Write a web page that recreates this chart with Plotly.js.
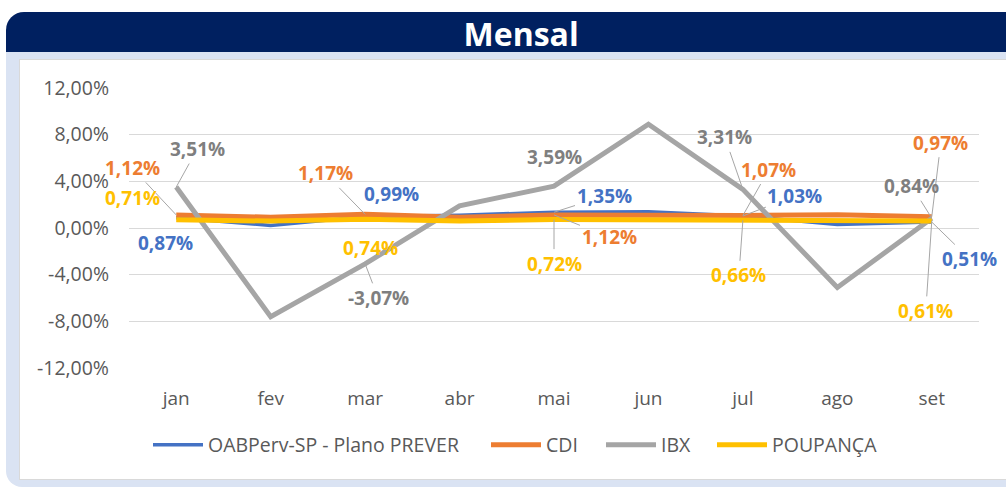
<!DOCTYPE html>
<html>
<head>
<meta charset="utf-8">
<script src="https://cdn.plot.ly/plotly-3.0.1.min.js"></script>
<style>
  html, body { margin:0; padding:0; width:1006px; height:487px; overflow:hidden; background:#ffffff; }
  #frame { position:absolute; left:6px; top:40px; width:1000px; height:447px; background:#DAE3F3; border-bottom-left-radius:16px; }
  #header { position:absolute; left:6px; top:12px; width:1000px; height:40px; background:#002060; border-top-left-radius:18px; }
  #panel { position:absolute; left:19px; top:59px; width:987px; height:421px; background:#ffffff; border:1px solid #D9D9D9; border-right:none; box-sizing:border-box; }
  #chart { position:absolute; left:0; top:0; width:1006px; height:487px; }
</style>
</head>
<body>
<div id="frame"></div>
<div id="header"></div>
<div id="panel"></div>
<div id="chart"></div>
<script>
// ---- data ----
const months = ['jan','fev','mar','abr','mai','jun','jul','ago','set'];
const seriesNames = ['OABPerv-SP - Plano PREVER','CDI','IBX','POUPANÇA'];
const oabValues  = [0.87, 0.22, 0.99, 1.10, 1.35, 1.40, 1.03, 0.30, 0.51];
const cdiValues  = [1.12, 0.92, 1.17, 0.92, 1.12, 1.07, 1.07, 1.14, 0.97];
const ibxValues  = [3.51, -7.60, -3.07, 1.90, 3.59, 8.90, 3.31, -5.10, 0.84];
const poupValues = [0.71, 0.59, 0.74, 0.60, 0.72, 0.68, 0.66, 0.69, 0.61];
const yTickVals  = [-12, -8, -4, 0, 4, 8, 12];
const yTickText  = ['-12,00%', '-8,00%', '-4,00%', '0,00%', '4,00%', '8,00%', '12,00%'];
const labeledIdx = [0, 2, 4, 6, 8];

// ---- styles ----
const colors = ['#4472C4', '#ED7D31', '#A5A5A5', '#FFC000'];
const labelColors = ['#4472C4', '#ED7D31', '#7F7F7F', '#FFC000'];
const widths = [3.5, 5, 5, 5];
const allValues = [oabValues, cdiValues, ibxValues, poupValues];
const legendIds = ['legend', 'legend2', 'legend3', 'legend4'];
const legendLeftPx = [152, 490, 605, 716];   // where each legend entry begins

// label placement (pixel offsets of label centre from its point; third = draw leader line)
const labelPos = [
  // OAB
  {0:[-11,25,0], 2:[26,-22,0], 4:[50,-16,1], 6:[52,-20,1], 8:[38,37,1]},
  // CDI
  {0:[-44,-47,1], 2:[-40,-41,1], 4:[55,22,1], 6:[26,-46,1], 8:[9,-74,1]},
  // IBX
  {0:[21,-38,1], 2:[13,34,1], 4:[0,-29,0], 6:[-18,-52,1], 8:[-20,-32,1]},
  // POUP
  {0:[-44,-22,0], 2:[5,29,0], 4:[0,44,1], 6:[-4,55,1], 8:[-6,90,1]}
];

function fmt(v) { return v.toFixed(2).replace('.', ',') + '%'; }

const traces = allValues.map((vals, k) => ({
  type: 'scatter', mode: 'lines', name: seriesNames[k],
  x: months, y: vals, legend: legendIds[k],
  line: { color: colors[k], width: widths[k] },
  hoverinfo: 'skip'
}));

const annotations = [];
allValues.forEach((vals, k) => {
  labeledIdx.forEach(i => {
    const p = labelPos[k][i];
    annotations.push({
      x: months[i], y: vals[i], xref: 'x', yref: 'y',
      text: '<b>' + fmt(vals[i]) + '</b>',
      showarrow: true, arrowhead: 0, arrowwidth: 1,
      arrowcolor: p[2] ? '#A6A6A6' : 'rgba(0,0,0,0)',
      ax: p[0], ay: p[1],
      font: { family: 'Open Sans, sans-serif', size: 19, color: labelColors[k] }
    });
  });
});

const M = { l: 129, r: 27, t: 88, b: 119 };
const plotW = 1006 - M.l - M.r;

const layout = {
  width: 1006, height: 487,
  paper_bgcolor: 'rgba(0,0,0,0)', plot_bgcolor: 'rgba(0,0,0,0)',
  margin: M,
  separators: ',.',
  title: {
    text: '<b>Mensal</b>', xref: 'container', yref: 'container',
    x: 0.518, xanchor: 'center', y: 0.928, yanchor: 'middle',
    font: { family: 'Open Sans, sans-serif', size: 32, color: '#ffffff' }
  },
  xaxis: {
    type: 'category', range: [-0.5, 8.5], showgrid: false, showline: false,
    zeroline: false, ticks: '', ticklabelstandoff: 17,
    tickfont: { family: 'Open Sans, sans-serif', size: 19, color: '#595959' }
  },
  yaxis: {
    range: [-12, 12], tickvals: yTickVals, ticktext: yTickText,
    showgrid: true, gridcolor: '#D9D9D9', gridwidth: 1,
    zeroline: true, zerolinecolor: '#D9D9D9', zerolinewidth: 1,
    showline: false, ticks: '', ticklabelstandoff: 19,
    tickfont: { family: 'Open Sans, sans-serif', size: 19.5, color: '#595959' }
  },
  showlegend: true,
  annotations: annotations
};

legendIds.forEach((id, k) => {
  layout[id] = {
    orientation: 'h', xanchor: 'left', yanchor: 'middle', y: -0.275,
    x: (legendLeftPx[k] - 4 - M.l) / plotW,
    font: { family: 'Open Sans, sans-serif', size: 19.5, color: '#595959' },
    bgcolor: 'rgba(0,0,0,0)', itemwidth: 50
  };
});

Plotly.newPlot('chart', traces, layout, { displayModeBar: false, staticPlot: true });
</script>
</body>
</html>
